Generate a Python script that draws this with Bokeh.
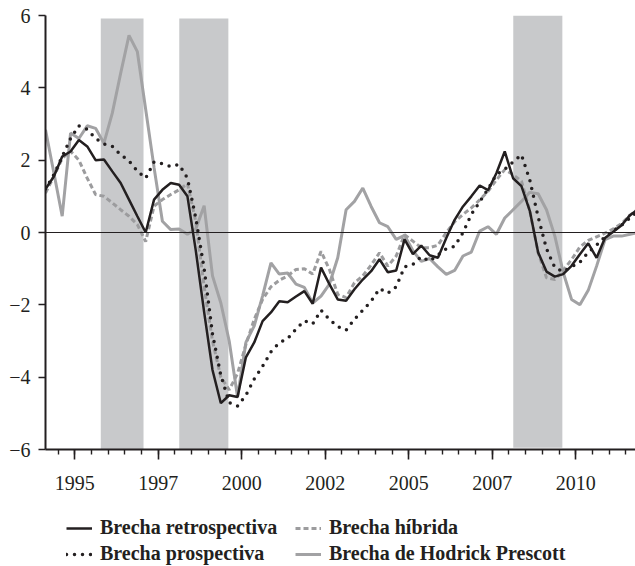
import numpy as np
from bokeh.plotting import figure
from bokeh.layouts import column
from bokeh.models import (FixedTicker, CustomJSTickFormatter, Span, Legend,
                          LegendItem, Range1d)
from bokeh.embed import file_html
from bokeh.resources import INLINE

# ---------------- data (quarterly, 1994Q1 .. 2011Q4) ----------------
first_quarter = 1994.125   # mid-point of 1994Q1
retro = [1.20, 1.55, 2.10, 2.24, 2.56, 2.38, 2.00, 2.02, 1.69, 1.37,
         0.91, 0.45, 0.00, 0.91, 1.18, 1.37, 1.32, 1.00, -0.50, -2.20,
         -3.80, -4.72, -4.50, -4.55, -3.45, -3.04, -2.45, -2.21, -1.90, -1.93,
         -1.77, -1.62, -1.97, -0.97, -1.43, -1.85, -1.89, -1.57, -1.30, -1.07,
         -0.74, -1.10, -1.05, -0.19, -0.60, -0.36, -0.63, -0.70, -0.15, 0.35,
         0.72, 1.00, 1.30, 1.17, 1.64, 2.24, 1.50, 1.28, 0.60, -0.55,
         -1.08, -1.22, -1.15, -0.92, -0.60, -0.30, -0.70, -0.15, 0.02, 0.20,
         0.48, 0.65]
hibrida = [1.09, 1.55, 2.05, 2.25, 2.00, 1.50, 1.05, 1.00, 0.82, 0.63,
           0.45, 0.22, -0.25, 0.73, 0.91, 1.05, 1.18, 1.35, 0.30, -1.50,
           -3.00, -4.00, -4.35, -3.90, -3.10, -2.40, -1.85, -1.50, -1.32, -1.20,
           -1.02, -1.00, -1.15, -0.52, -1.02, -1.71, -1.80, -1.39, -1.20, -0.90,
           -0.56, -0.93, -0.65, -0.06, -0.24, -0.42, -0.42, -0.35, 0.00, 0.30,
           0.50, 0.68, 0.90, 1.14, 1.45, 1.74, 1.60, 1.42, 0.60, -0.56,
           -1.25, -1.30, -1.05, -0.75, -0.40, -0.22, -0.12, -0.02, 0.10, 0.25,
           0.48, 0.65]
prosp = [1.20, 1.60, 2.10, 2.60, 2.95, 2.85, 2.60, 2.45, 2.38, 2.15,
         1.98, 1.70, 1.50, 1.95, 1.90, 1.82, 1.88, 1.50, 0.40, -1.00,
         -2.80, -3.95, -4.70, -4.80, -4.50, -4.05, -3.70, -3.30, -3.05, -2.93,
         -2.67, -2.44, -2.53, -2.15, -2.40, -2.60, -2.70, -2.40, -2.15, -1.90,
         -1.55, -1.68, -1.50, -0.95, -0.88, -0.67, -0.79, -0.62, -0.45, -0.38,
         0.00, 0.50, 0.85, 1.20, 1.60, 1.75, 1.95, 2.15, 1.45, 0.43,
         -0.45, -0.97, -1.08, -0.95, -0.82, -0.55, -0.35, -0.12, 0.05, 0.20,
         0.40, 0.60]
hp = [2.84, 1.65, 0.45, 2.75, 2.60, 2.95, 2.88, 2.47, 3.30, 4.40,
      5.45, 5.00, 3.40, 1.80, 0.31, 0.08, 0.10, -0.05, 0.10, 0.74,
      -1.20, -1.95, -3.00, -4.55, -3.04, -2.58, -1.75, -0.84, -1.15, -1.12,
      -1.43, -1.52, -1.95, -1.76, -1.43, -0.70, 0.63, 0.86, 1.23, 0.72,
      0.27, 0.16, -0.19, -0.08, -0.50, -0.80, -0.72, -0.95, -1.16, -1.05,
      -0.65, -0.54, 0.04, 0.16, -0.05, 0.40, 0.63, 0.86, 1.11, 1.07,
      0.63, -0.10, -1.10, -1.85, -2.00, -1.60, -0.93, -0.20, -0.10, -0.10,
      -0.05, 0.00]

shade_start = [1995.78, 1998.13, 2008.13]
shade_end = [1997.06, 1999.60, 2009.60]
shade_top = [5.92, 5.92, 6.00]
shade_bottom = [-6.0, -6.0, -5.95]

x_major = [1995, 1997.5, 2000, 2002.5, 2005, 2007.5, 2010]
x_minor = [1994.5 + 0.5 * i for i in range(36)]
y_major = [-6, -4, -2, 0, 2, 4, 6]

labels = ["Brecha retrospectiva", "Brecha híbrida",
          "Brecha prospectiva", "Brecha de Hodrick Prescott"]

# ---------------- styles ----------------
INK = "#231f20"
GRAY = "#a2a2a4"
DASHGRAY = "#9c9c9e"
styles = [dict(line_color=INK, line_width=2.5),
          dict(line_color=DASHGRAY, line_width=3, line_dash="5 3"),
          dict(line_color=INK, line_width=3.5, line_dash="0 8", line_cap="round"),
          dict(line_color=GRAY, line_width=3)]
series = [retro, hibrida, prosp, hp]

x = first_quarter + 0.25 * np.arange(len(retro))

# ---------------- main chart ----------------
p = figure(width=635, height=500, output_backend="svg", toolbar_location=None,
           x_range=Range1d(1994.125, 2011.79), y_range=Range1d(-6, 6),
           min_border_left=45, min_border_right=0, min_border_top=15,
           min_border_bottom=51)
p.xgrid.visible = False
p.ygrid.visible = False
p.outline_line_color = None
p.background_fill_color = "white"
p.border_fill_color = "white"

p.quad(left=shade_start, right=shade_end, top=shade_top, bottom=shade_bottom,
       fill_color="#c8c9cb", line_color=None)

p.add_layout(Span(location=0, dimension="width", line_color=INK, line_width=1.2))

for i in (3, 1, 2, 0):
    p.line(x, series[i], **styles[i])

xa = p.xaxis[0]
xa.ticker = FixedTicker(ticks=x_major, minor_ticks=x_minor)
xa.formatter = CustomJSTickFormatter(code="return Math.floor(tick).toString();")
xa.major_tick_out = 10
xa.major_tick_in = 0
xa.minor_tick_out = 5
xa.minor_tick_in = 0
xa.axis_line_width = 2
xa.axis_line_color = INK
xa.major_tick_line_color = INK
xa.minor_tick_line_color = INK
xa.major_tick_line_width = 1.6
xa.minor_tick_line_width = 1.4
xa.major_label_text_font = "Liberation Serif"
xa.major_label_text_font_size = "20px"
xa.major_label_text_color = INK
xa.major_label_standoff = 16

ya = p.yaxis[0]
ya.ticker = FixedTicker(ticks=y_major, minor_ticks=[])
ya.formatter = CustomJSTickFormatter(
    code="return tick < 0 ? '\u2212' + Math.abs(tick) : String(tick);")
ya.major_tick_out = 7
ya.major_tick_in = 0
ya.minor_tick_out = 0
ya.minor_tick_in = 0
ya.axis_line_width = 2
ya.axis_line_color = INK
ya.major_tick_line_color = INK
ya.major_tick_line_width = 1.6
ya.major_label_text_font = "Liberation Serif"
ya.major_label_text_font_size = "20px"
ya.major_label_text_color = INK
ya.major_label_standoff = 8

# ---------------- legend strip (series drawn outside its visible range) ----------------
lg = figure(width=635, height=66, output_backend="svg", toolbar_location=None,
            x_range=Range1d(0, 1), y_range=Range1d(0, 1),
            x_axis_location=None, y_axis_location=None, min_border=0)
lg.grid.visible = False
lg.outline_line_color = None
lg.background_fill_color = "white"
lg.border_fill_color = "white"
keys = [lg.line(x, series[i], **styles[i]) for i in range(4)]

legend = Legend(
    items=[LegendItem(label=labels[i], renderers=[keys[i]]) for i in range(4)],
    location=(21, 1), orientation="horizontal", ncols=2,
    padding=0, margin=0, spacing=3, glyph_width=26, glyph_height=20,
    label_height=20, label_width=192, label_standoff=8,
    label_text_font="Liberation Serif", label_text_font_style="bold",
    label_text_font_size="20px", label_text_color=INK,
    border_line_color=None, background_fill_alpha=0)
lg.add_layout(legend)

layout = column(p, lg, spacing=0)

with open("out.html", "w", encoding="utf-8") as f:
    f.write(file_html(layout, INLINE))
